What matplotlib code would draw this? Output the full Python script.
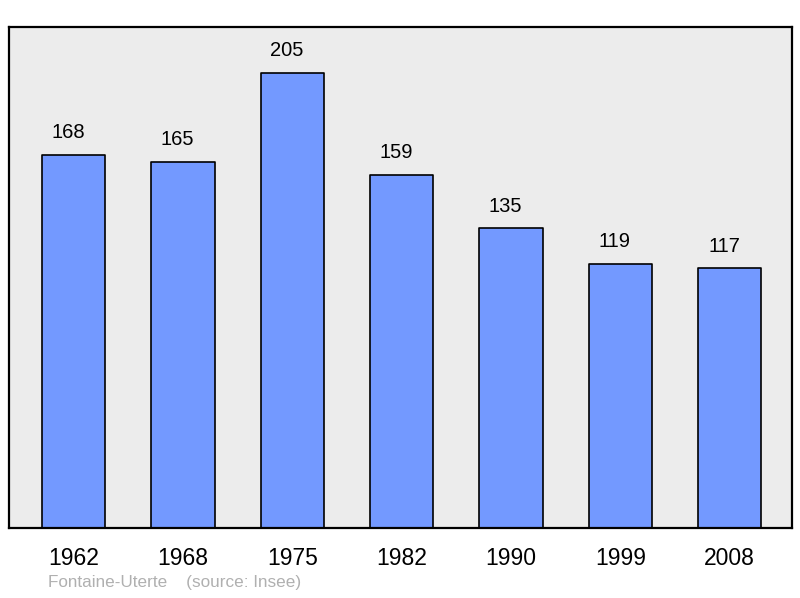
import matplotlib.pyplot as plt

years = ['1962', '1968', '1975', '1982', '1990', '1999', '2008']
population = [168, 165, 205, 159, 135, 119, 117]

plt.rcParams['font.family'] = ['Liberation Sans', 'DejaVu Sans']

fig = plt.figure(figsize=(8, 5.98), dpi=100)
ax = fig.add_axes([9 / 800, 1 - 528 / 598, 783 / 800, 501 / 598])
ax.set_facecolor('#ececec')

x = range(len(years))
bars = ax.bar(x, population, width=0.58, color='#7399ff', edgecolor='black',
              linewidth=1.2, joinstyle='round')
for xi, v in zip(x, population):
    ax.annotate(str(v), (xi, v), xytext=(-4, 9), textcoords='offset points',
                ha='center', va='bottom', fontsize=14.5)

ax.set_xlim(-0.59, 6.57)
ax.set_ylim(0, 225.6)
ax.set_yticks([])
ax.set_xticks(list(x))
ax.set_xticklabels(years, fontsize=16.5)
ax.tick_params(axis='x', length=0, pad=14)
for s in ax.spines.values():
    s.set_linewidth(1.6)

fig.text(48 / 800, 1 - 583 / 598, 'Fontaine-Uterte    (source: Insee)',
         color='#b0b0b0', fontsize=12.3, va='center')

fig.savefig('out.png', dpi=100)
